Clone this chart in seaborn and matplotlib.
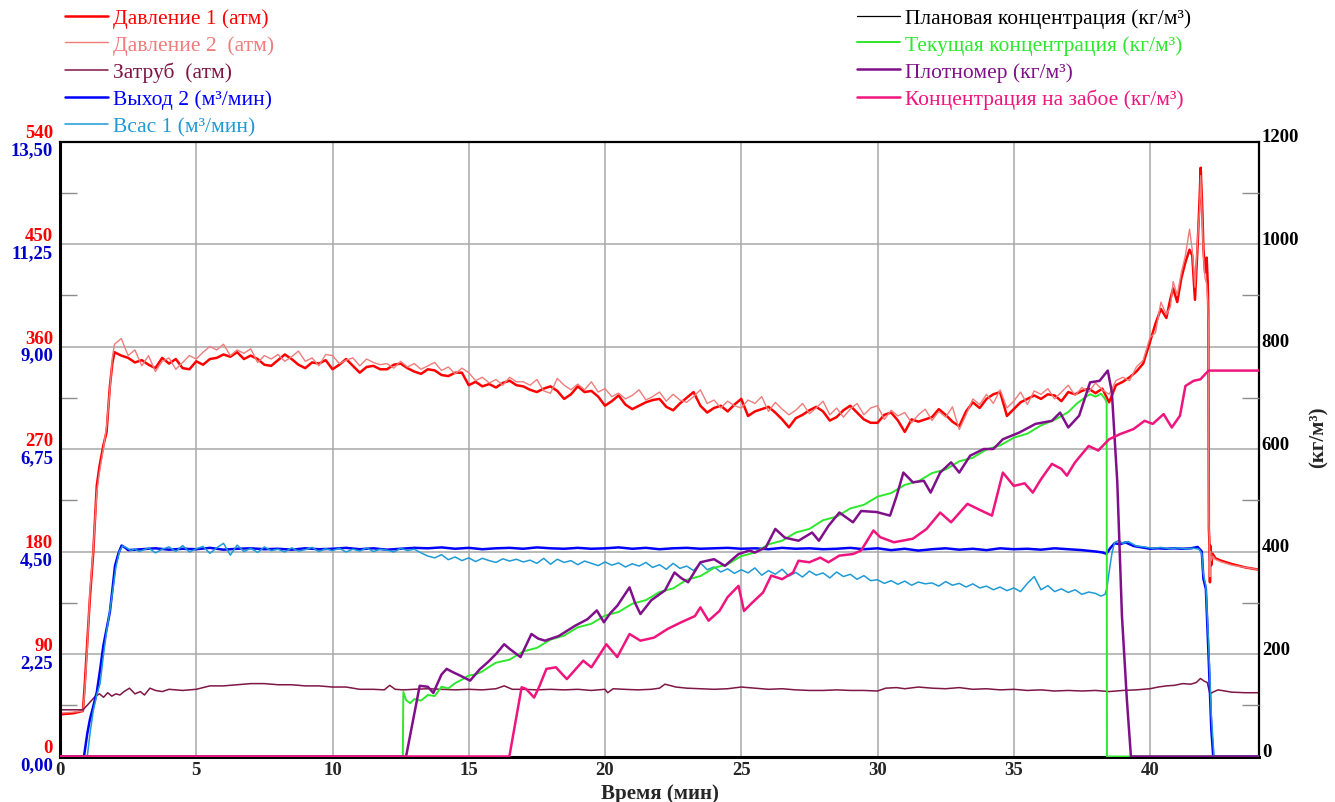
import numpy as np
import matplotlib
matplotlib.use("Agg")
import matplotlib.pyplot as plt
import seaborn as sns
from matplotlib.ticker import FixedLocator
from matplotlib.transforms import ScaledTranslation

sns.set_theme(style="white")
plt.rcParams["font.family"] = ["Liberation Serif", "DejaVu Serif"]

# ---------------- pressures (атм) ----------------
press_head_t = [0.0, 0.5, 0.84, 0.9, 1.0, 1.1, 1.22, 1.35, 1.45, 1.59, 1.71, 1.83, 1.92]
p1_head = [37, 38, 40, 60, 100, 140, 179, 238, 255, 273, 285, 325, 345]
p2_head = [38, 39, 40, 55, 95, 145, 182, 232, 250, 270, 290, 322, 350]

# quarter-minute readings, 2.00 ... 39.75 min
p1_body = [
    355, 352, 350, 346,  348, 344, 341, 350,  345, 349, 341, 340,  347, 344, 349, 350,
    353, 351, 355, 349,  352, 349, 344, 343,  348, 353, 349, 344,  341, 346, 345, 348,
    340, 344, 349, 343,  337, 342, 343, 340,  340, 344, 345, 341,  338, 336, 340, 339,
    335, 334, 337, 337,  326, 329, 325, 327,  324, 328, 330, 326,  325, 322, 320, 323,
    325, 321, 314, 318,  325, 320, 321, 316,  308, 312, 317, 309,  305, 308, 311, 313,
    314, 307, 304, 310,  315, 320, 308, 302,  306, 308, 303, 309,  314, 299, 303, 305,
    307, 302, 296, 289,  297, 300, 304, 307,  303, 295, 298, 304,  308, 302, 296, 293,
    293, 300, 302, 295,  285, 296, 294, 296,  298, 305, 300, 294,  290, 303, 311, 306,
    314, 318, 320, 299,  305, 311, 314, 317,  314, 318, 317, 312,  320, 318, 321, 323,
    319, 323, 311, 326,  329, 333, 338, 345,
]
p2_body = [
    362, 367, 352, 357,  343, 352, 338, 347,  350, 340, 346, 352,  349, 355, 360, 357,
    362, 352, 357, 354,  358, 346, 352, 349,  353, 347, 351, 356,  347, 350, 343, 353,
    352, 345, 348, 350,  343, 349, 346, 344,  345, 341, 347, 342,  345, 340, 343, 346,
    339, 342, 336, 341,  337, 330, 333, 328,  331, 326, 333, 329,  329, 326, 331, 321,
    319, 332, 326, 322,  327, 322, 329, 320,  323, 316, 319, 314,  317, 322, 313, 316,
    320, 312, 318, 313,  311, 316, 322, 310,  313, 306, 312, 308,  306, 313, 310, 316,
    303, 311, 305, 300,  304, 310, 301, 306,  312, 300, 306, 298,  305, 310, 300, 306,
    308, 296, 304, 299,  302, 293, 300, 305,  295, 303, 298, 307,  287, 300, 314, 309,
    318, 310, 322, 306,  312, 320, 309, 321,  318, 323, 314, 320,  326, 317, 324, 320,
    328, 322, 318, 330,  333, 330, 342, 348,
]
press_tail_t = [40.0, 40.2, 40.4, 40.6, 40.75, 40.85, 41.0, 41.15, 41.3, 41.45,
                41.55, 41.65, 41.75, 41.82, 41.86, 41.92, 41.96, 42.02, 42.08, 42.12,
                42.14, 42.16, 42.18, 42.20, 42.22, 42.25, 42.3, 42.4, 42.6, 43.0,
                43.5, 44.0]
p1_tail = [364, 380, 393, 385, 402, 411, 399, 420, 434, 445,
           440, 401, 450, 490, 517, 480, 446, 425, 438, 415,
           390, 200, 188, 153, 185, 168, 178, 174, 172, 169,
           166, 164]
p2_tail = [368, 372, 399, 388, 395, 417, 405, 425, 440, 463,
           445, 412, 455, 480, 510, 470, 440, 420, 415, 400,
           380, 205, 190, 158, 180, 172, 176, 173, 171, 168,
           166, 164]

annulus = [
    (0, 41), (0.84, 41), (1.0, 45), (1.15, 49), (1.3, 53), (1.45, 55), (1.6, 52), (1.75, 56),
    (1.9, 53), (2.05, 55), (2.2, 54), (2.35, 57), (2.55, 60), (2.75, 55), (2.95, 57), (3.1, 54),
    (3.3, 60), (3.5, 58), (3.75, 57), (4.0, 59), (4.5, 58), (5.0, 59), (5.5, 62), (6.0, 62),
    (6.5, 63), (7.0, 64), (7.5, 64), (8.0, 63), (8.5, 63), (9.0, 62), (9.5, 62), (10.0, 61),
    (10.5, 61), (11.0, 59), (11.5, 59), (11.9, 58.5), (12.1, 62.5), (12.3, 59), (12.6, 58.5),
    (13.0, 59), (13.5, 59.5), (14.0, 59), (14.5, 58.5), (15.0, 59), (15.5, 58.5), (16.0, 59.5),
    (16.3, 62), (16.6, 59), (17.0, 59), (17.5, 58.5), (18.0, 59), (18.5, 58.5), (19.0, 59),
    (19.5, 58), (20.0, 59), (20.1, 56), (20.3, 59.5), (20.7, 59), (21.2, 58.5), (21.7, 59),
    (22.0, 60), (22.2, 63.5), (22.6, 61), (23.0, 60), (23.5, 59.5), (24.0, 59), (24.5, 59.5),
    (25.0, 61), (25.5, 60), (26.0, 59), (26.5, 59.5), (27.0, 58.5), (27.5, 58), (28.0, 58),
    (28.5, 58.5), (29.0, 58), (29.5, 58), (30.0, 57.5), (30.3, 60), (30.7, 60.5), (31.0, 59.5),
    (31.5, 61), (32.0, 60), (32.5, 59.5), (33.0, 60.5), (33.5, 59), (34.0, 59.5), (34.5, 58.5),
    (35.0, 59), (35.5, 58), (36.0, 58.5), (36.5, 57.5), (37.0, 58), (37.5, 57.5), (38.0, 58),
    (38.5, 57), (39.0, 58), (39.5, 58.5), (40.0, 59.5), (40.3, 61), (40.6, 62), (40.9, 62.5),
    (41.2, 64), (41.5, 63.5), (41.7, 65), (41.85, 68.5), (42.0, 66), (42.1, 65), (42.2, 55),
    (42.35, 57), (42.5, 58.5), (43.0, 56.5), (43.5, 56), (44.0, 56),
]

# ---------------- flows (м³/мин) ----------------
q2_head_t = [0, 0.5, 0.88, 1.0, 1.1, 1.22, 1.35, 1.47, 1.59, 1.71, 1.83, 1.93, 2.02, 2.14, 2.26, 2.4]
q2_head = [0, 0, 0, 0.5, 0.82, 1.1, 1.41, 1.9, 2.43, 2.8, 3.17, 3.7, 4.19, 4.45, 4.63, 4.58]
# half-minute readings, 2.5 ... 38.0 min
q2_body = [
    4.53, 4.55, 4.57, 4.54, 4.56, 4.55, 4.58, 4.54, 4.56, 4.57, 4.55,
    4.56, 4.54, 4.57, 4.55, 4.56, 4.58, 4.55, 4.57, 4.54, 4.56, 4.58,
    4.57, 4.59, 4.56, 4.58, 4.55, 4.57, 4.58, 4.56, 4.59, 4.57, 4.56,
    4.58, 4.56, 4.57, 4.59, 4.56, 4.58, 4.55, 4.57, 4.58, 4.56, 4.57,
    4.58, 4.56, 4.57, 4.55, 4.58, 4.56, 4.57, 4.55, 4.56, 4.58, 4.55,
    4.57, 4.53, 4.56, 4.52, 4.55, 4.57, 4.54, 4.56, 4.53, 4.57, 4.55,
    4.56, 4.54, 4.57, 4.55, 4.53, 4.50,
]
q2_tail_t = [38.25, 38.4, 38.55, 38.7, 38.9, 39.1, 39.4, 39.7, 40.0, 40.3, 40.6, 40.9,
             41.2, 41.5, 41.75, 41.9, 41.96, 42.05, 42.15, 42.25, 42.32, 43.0, 44.0]
q2_tail = [4.48, 4.45, 4.58, 4.68, 4.66, 4.70, 4.62, 4.59, 4.56, 4.57, 4.56, 4.57,
           4.56, 4.57, 4.60, 4.50, 3.90, 3.68, 2.2, 0.6, 0, 0, 0]

q1_head_t = [0, 0.5, 1.0, 1.1, 1.22, 1.35, 1.47, 1.59, 1.71, 1.83, 1.95, 2.05, 2.18, 2.3, 2.45, 2.6, 2.75, 2.9]
q1_head = [0, 0, 0, 0.5, 1.0, 1.35, 1.6, 2.2, 2.75, 3.2, 3.7, 4.15, 4.5, 4.62, 4.58, 4.52, 4.56, 4.50]
# quarter-minute readings, 3.00 ... 37.75 min
q1_body = [
    4.52, 4.58, 4.47, 4.55,  4.60, 4.50, 4.63, 4.49,  4.56, 4.61, 4.46, 4.58,
    4.68, 4.42, 4.64, 4.50,  4.57, 4.48, 4.60, 4.52,  4.55, 4.49, 4.58, 4.51,
    4.54, 4.59, 4.50, 4.56,  4.52, 4.57, 4.49, 4.55,  4.51, 4.58, 4.50, 4.55,
    4.53, 4.49, 4.57, 4.52,  4.55, 4.47, 4.40, 4.36,  4.43, 4.32, 4.38, 4.30,
    4.36, 4.28, 4.35, 4.30,  4.26, 4.34, 4.29, 4.33,  4.27, 4.31, 4.24, 4.35,
    4.22, 4.33, 4.26, 4.30,  4.21, 4.29, 4.24, 4.19,  4.27, 4.20, 4.25, 4.16,
    4.23, 4.18, 4.26, 4.15,  4.21, 4.11, 4.24, 4.13,  4.18, 4.08, 4.25, 4.10,
    4.16, 4.05, 4.12, 4.02,  4.10, 4.03, 4.14, 3.98,  4.08, 4.00, 4.11, 3.96,
    4.04, 3.94, 4.07, 3.98,  4.03, 3.92, 4.05, 3.95,  4.00, 3.89, 3.97, 3.86,
    3.88, 3.80, 3.86, 3.78,  3.85, 3.76, 3.83, 3.79,  3.81, 3.74, 3.84, 3.76,
    3.80, 3.72, 3.79, 3.70,  3.74, 3.66, 3.72, 3.64,  3.70, 3.62, 3.80, 3.95,
    3.66, 3.75, 3.62, 3.68,  3.60, 3.66, 3.56, 3.61,
]
q1_tail_t = [38.0, 38.2, 38.35, 38.42, 38.5, 38.6, 38.7, 38.85, 39.0, 39.2,
             39.5, 39.8, 40.1, 40.4, 40.7, 41.0, 41.3, 41.6, 41.8, 41.9,
             41.96, 42.05, 42.15, 42.25, 42.35, 43.0, 44.0]
q1_tail = [3.58, 3.52, 3.56, 3.70, 4.05, 4.45, 4.70, 4.74, 4.68, 4.72,
           4.62, 4.60, 4.57, 4.59, 4.56, 4.58, 4.56, 4.57, 4.55, 4.45,
           4.0, 3.75, 2.5, 0.9, 0, 0, 0]

# ---------------- concentrations (кг/м³) ----------------
planned = [(0, 0), (44, 0)]

current = [
    (0, 0), (12.58, 0), (12.6, 126), (12.7, 110), (12.85, 104), (13.0, 112), (13.25, 109),
    (13.5, 120), (13.75, 118), (14.0, 136), (14.25, 133), (14.5, 143), (14.75, 150), (15.0, 158),
    (15.25, 160), (15.5, 166), (15.75, 175), (16.0, 183), (16.5, 189), (17.0, 205), (17.5, 212),
    (18.0, 228), (18.5, 236), (19.0, 252), (19.5, 259), (20.0, 275), (20.5, 282), (21.0, 298),
    (21.5, 305), (22.0, 321), (22.5, 328), (23.0, 345), (23.5, 352), (24.0, 368), (24.5, 375),
    (25.0, 391), (25.5, 398), (26.0, 414), (26.5, 421), (27.0, 437), (27.5, 444), (28.0, 461),
    (28.5, 468), (29.0, 484), (29.5, 491), (30.0, 507), (30.5, 514), (31.0, 530), (31.5, 537),
    (32.0, 553), (32.5, 560), (33.0, 576), (33.5, 583), (34.0, 599), (34.5, 607), (35.0, 622),
    (35.5, 630), (36.0, 646), (36.5, 657), (37.0, 672), (37.3, 688), (37.6, 700), (37.8, 707),
    (38.0, 702), (38.2, 708), (38.36, 697), (38.41, 690), (38.42, 0), (44, 0),
]

densitometer = [
    (0, 0), (12.7, 0), (13.2, 138), (13.5, 136), (13.7, 124), (14.0, 160), (14.19, 171),
    (14.4, 165), (14.68, 158), (15.05, 148), (15.4, 170), (15.7, 184), (16.0, 200), (16.3, 219),
    (16.5, 210), (16.9, 194), (17.3, 239), (17.55, 230), (17.8, 226), (18.3, 235), (18.6, 245),
    (18.9, 255), (19.36, 268), (19.7, 285), (19.96, 262), (20.2, 280), (20.45, 294), (20.9, 330),
    (21.1, 300), (21.3, 278), (21.7, 305), (22.2, 324), (22.55, 359), (22.8, 348), (23.05, 340),
    (23.5, 379), (24.0, 385), (24.4, 372), (24.9, 395), (25.3, 402), (25.5, 398), (25.9, 408),
    (26.25, 444), (26.6, 427), (27.1, 421), (27.6, 437), (27.85, 421), (28.2, 450), (28.6, 476),
    (29.1, 457), (29.4, 479), (29.97, 477), (30.46, 470), (30.7, 508), (30.95, 554), (31.3, 535),
    (31.7, 538), (31.95, 515), (32.3, 554), (32.7, 574), (33.0, 554), (33.4, 587), (33.9, 600),
    (34.25, 600), (34.6, 619), (35.2, 632), (35.8, 649), (36.4, 655), (36.7, 671), (37.0, 642),
    (37.4, 665), (37.8, 730), (38.15, 733), (38.45, 753), (38.6, 711), (38.8, 535), (38.97, 275),
    (39.15, 112), (39.3, 0), (44, 0),
]

bottomhole = [
    (0, 0), (16.49, 0), (16.94, 135), (17.1, 132), (17.4, 115), (17.6, 138), (17.85, 171),
    (18.2, 174), (18.6, 151), (19.2, 187), (19.5, 174), (20.05, 219), (20.45, 194), (20.9, 239),
    (21.3, 226), (21.8, 232), (22.3, 249), (22.8, 262), (23.3, 274), (23.5, 291), (23.8, 265),
    (24.2, 284), (24.5, 311), (24.9, 333), (25.1, 284), (25.4, 300), (25.8, 320), (26.1, 353),
    (26.5, 346), (26.9, 359), (27.1, 382), (27.5, 379), (27.9, 388), (28.2, 379), (28.6, 392),
    (29.1, 395), (29.4, 402), (29.85, 441), (30.1, 428), (30.6, 418), (31.3, 425), (31.8, 444),
    (32.3, 476), (32.7, 457), (33.3, 493), (33.8, 480), (34.2, 470), (34.6, 554), (35.0, 528),
    (35.4, 533), (35.7, 515), (36.0, 541), (36.4, 571), (36.75, 561), (36.95, 548), (37.25, 574),
    (37.75, 606), (38.1, 597), (38.5, 619), (38.9, 629), (39.4, 639), (39.8, 655), (40.1, 649),
    (40.5, 668), (40.8, 642), (41.1, 665), (41.3, 723), (41.6, 733), (41.85, 736), (42.15, 753),
    (44, 753),
]

press_ticks = [0, 90, 180, 270, 360, 450, 540]
flow_ticks = [0, 2.25, 4.5, 6.75, 9.0, 11.25, 13.5]
flow_tick_labels = ["0,00", "2,25", "4,50", "6,75", "9,00", "11,25", "13,50"]
conc_ticks = [0, 200, 400, 600, 800, 1000, 1200]
time_ticks = [0, 5, 10, 15, 20, 25, 30, 35, 40]

# ---------------- assemble time bases ----------------
press_t = np.concatenate([press_head_t, 2.0 + 0.25 * np.arange(len(p1_body)), press_tail_t])
p1 = np.concatenate([p1_head, p1_body, p1_tail])
p2 = np.concatenate([p2_head, p2_body, p2_tail])
q2_t = np.concatenate([q2_head_t, 2.5 + 0.5 * np.arange(len(q2_body)), q2_tail_t])
q2 = np.concatenate([q2_head, q2_body, q2_tail])
q1_t = np.concatenate([q1_head_t, 3.0 + 0.25 * np.arange(len(q1_body)), q1_tail_t])
q1 = np.concatenate([q1_head, q1_body, q1_tail])

W, H = 1335, 803
fig = plt.figure(figsize=(W / 100, H / 100), dpi=100)
L, R, T, B = 60, 1259, 142.5, 757.5
ax = fig.add_axes([L / W, 1 - B / H, (R - L) / W, (B - T) / H])
ax_q = ax.twinx()
ax_c = ax.twinx()


def draw(axis, t, v, color, lw, label):
    sns.lineplot(x=np.asarray(t, float), y=np.asarray(v, float), ax=axis, color=color,
                 linewidth=lw, estimator=None, sort=False, legend=False)
    line = axis.lines[-1]
    line.set_label(label)
    return line


def pairs(seq):
    t, v = zip(*seq)
    return t, v


h_p1 = draw(ax, press_t, p1, "#FF0000", 1.8, "Давление 1 (атм)")
h_p2 = draw(ax, press_t, p2, "#F07C7C", 1.0, "Давление 2  (атм)")
h_an = draw(ax, *pairs(annulus), "#7E1646", 1.1, "Затруб  (атм)")
h_q2 = draw(ax_q, q2_t, q2, "#0000FF", 1.8, "Выход 2 (м³/мин)")
h_q1 = draw(ax_q, q1_t, q1, "#1F9AD6", 1.1, "Всас 1 (м³/мин)")
h_pl = draw(ax_c, *pairs(planned), "#000000", 0.9, "Плановая концентрация (кг/м³)")
h_cu = draw(ax_c, *pairs(current), "#2EE82E", 1.4, "Текущая концентрация (кг/м³)")
h_de = draw(ax_c, *pairs(densitometer), "#80108A", 1.8, "Плотномер (кг/м³)")
h_bh = draw(ax_c, *pairs(bottomhole), "#F0157E", 1.8, "Концентрация на забое (кг/м³)")

# ---------------- axes styling ----------------
ax.set_xlim(0, 44)
ax.set_ylim(0, 540)
ax_q.set_ylim(0, 13.5)
ax_c.set_ylim(0, 1200)

tick_fs = 13.5
grid_color = "#a8a8a8"
ax.set_xticks(time_ticks)
ax.set_xticklabels([str(v) for v in time_ticks], fontsize=tick_fs, fontweight="bold")
ax.set_yticks(press_ticks)
ax.set_yticklabels([str(v) for v in press_ticks], fontsize=tick_fs, fontweight="bold",
                   color="#FF0000")
nudge_down = ScaledTranslation(0, -2 / 100, fig.dpi_scale_trans)
for lbl in ax.get_yticklabels():
    lbl.set_va("bottom")
    lbl.set_transform(lbl.get_transform() + nudge_down)
ax.yaxis.set_minor_locator(FixedLocator([45, 135, 225, 315, 405, 495]))
ax.grid(True, which="major", color=grid_color, linewidth=1.1)
ax.grid(False, which="minor")
ax.tick_params(axis="x", which="major", length=0, pad=3)
ax.tick_params(axis="y", which="major", length=0, pad=5, left=True)
ax.tick_params(axis="y", which="minor", direction="in", length=12, width=1,
               color="#8c8c8c", left=True, right=False)
for name, sp in ax.spines.items():
    sp.set_visible(True)
    sp.set_color("black")
    sp.set_linewidth(2.2 if name in ("left", "bottom") else 1.6)
ax.set_axisbelow(True)

ax_q.yaxis.set_ticks_position("left")
ax_q.set_yticks(flow_ticks)
ax_q.set_yticklabels(flow_tick_labels, fontsize=tick_fs, fontweight="bold", color="#0000CC")
for lbl in ax_q.get_yticklabels():
    lbl.set_va("top")
ax_q.tick_params(axis="y", which="major", length=0, pad=5, left=True, right=False)
for sp in ax_q.spines.values():
    sp.set_visible(False)
ax_q.grid(False)

ax_c.set_yticks(conc_ticks)
ax_c.set_yticklabels([str(v) for v in conc_ticks], fontsize=tick_fs, fontweight="bold",
                     color="black")
for lbl in ax_c.get_yticklabels():
    lbl.set_va("baseline")
ax_c.yaxis.set_minor_locator(FixedLocator([100, 300, 500, 700, 900, 1100]))
ax_c.tick_params(axis="y", which="major", length=0, pad=2, right=True, left=False)
ax_c.tick_params(axis="y", which="minor", direction="in", length=12, width=1,
                 color="#8c8c8c", right=True, left=False)
for sp in ax_c.spines.values():
    sp.set_visible(False)
ax_c.grid(False)
ax_c.set_ylabel("(кг/м³)", fontsize=15, fontweight="bold", rotation=90)
ax_c.yaxis.set_label_coords(1.041, 0.521)

ax.set_xlabel("Время (мин)", fontsize=15, fontweight="bold", labelpad=4)
ax.set_ylabel("")
ax_q.set_ylabel("")

# ---------------- legends ----------------
leg_kw = dict(loc="upper left", frameon=False, labelcolor="linecolor", fontsize=15.5,
              handlelength=2.0, handletextpad=0.25, labelspacing=0.32,
              borderaxespad=0, borderpad=0)
fig.legend(handles=[h_p1, h_p2, h_an, h_q2, h_q1],
           bbox_to_anchor=(65 / W, 1 - 9 / H), **leg_kw)
fig.legend(handles=[h_pl, h_cu, h_de, h_bh],
           bbox_to_anchor=(857 / W, 1 - 9 / H), **leg_kw)

fig.savefig("out.png", dpi=100)
